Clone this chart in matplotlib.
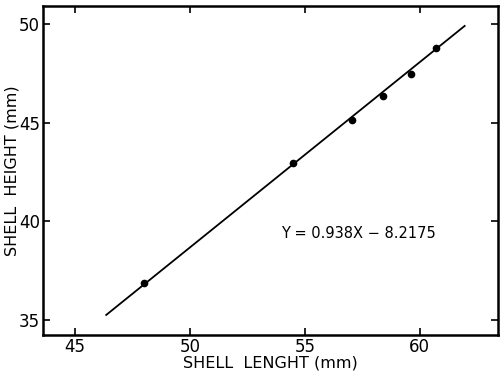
import matplotlib.pyplot as plt
import numpy as np

# measured shells
length_mm = [48.0, 54.5, 57.05, 58.4, 59.6, 60.7]
height_mm = [36.9, 42.95, 45.15, 46.35, 47.45, 48.75]

# regression line Y = 0.938X - 8.2175
slope = 0.938
intercept = -8.2175
fit_x = np.array([46.35, 61.95])

xticks = [45, 50, 55, 60]
yticks = [35, 40, 45, 50]

plt.rcParams["font.family"] = ["DejaVu Sans"]

fig = plt.figure(figsize=(5, 3.75), dpi=100)
ax = fig.add_axes([0.086, 0.107, 0.91, 0.877])

ax.plot(fit_x, slope * fit_x + intercept, color="black", lw=1.3)
ax.plot(length_mm, height_mm, "o", color="black", ms=4.5)

ax.text(53.95, 39.4, "Y = 0.938X \u2212 8.2175", fontsize=10.5, va="center")

ax.set_xlim(43.6, 63.4)
ax.set_ylim(34.25, 50.9)
ax.set_xticks(xticks)
ax.set_yticks(yticks)
ax.tick_params(direction="in", length=5, width=1.2, top=True, right=True,
               labelsize=12, pad=2)
for s in ax.spines.values():
    s.set_linewidth(1.8)

ax.set_xlabel("SHELL  LENGHT (mm)", fontsize=11.5, labelpad=0)
ax.set_ylabel("SHELL  HEIGHT (mm)", fontsize=11.5, labelpad=0)

fig.savefig("out.png", dpi=100)
